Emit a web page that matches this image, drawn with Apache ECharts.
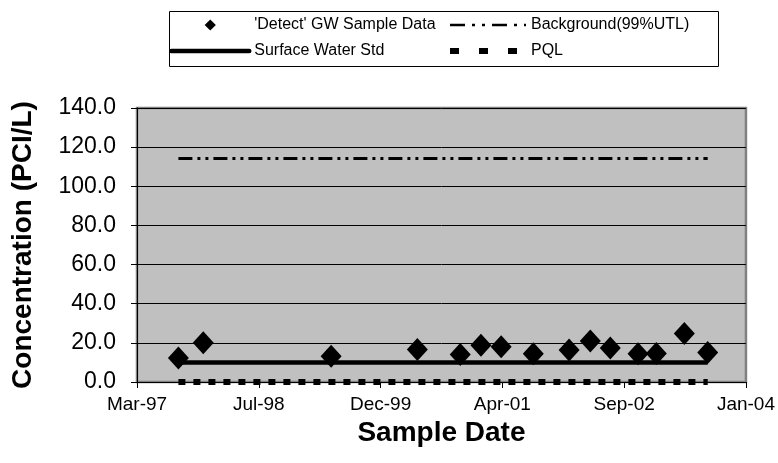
<!DOCTYPE html>
<html><head><meta charset="utf-8">
<script src="https://cdn.jsdelivr.net/npm/echarts@6/dist/echarts.min.js"></script>
<style>html,body{margin:0;padding:0;background:#fff}#c{width:778px;height:463px}</style>
</head><body><div id="c"></div>
<script>
// ---- data ----
const sampleDates = ['1997-08-28','1997-12-08','1999-05-17','2000-05-05','2000-10-28','2001-01-21','2001-04-14','2001-08-24','2002-01-18','2002-04-15','2002-07-06','2002-10-28','2003-01-11','2003-05-06','2003-08-10'];
const detectValues = [12.3, 20.0, 13.2, 16.6, 14.0, 18.8, 18.0, 14.4, 16.3, 20.9, 17.4, 14.4, 14.5, 24.8, 15.1];
const surfaceWaterStd = 10.0;
const backgroundUTL = 114.2;
const pqlValue = 0.0;
const xTickLabels = ['Mar-97','Jul-98','Dec-99','Apr-01','Sep-02','Jan-04'];
const xMinSerial = 35500, xStepDays = 500;
const yTickLabels = ['0.0','20.0','40.0','60.0','80.0','100.0','120.0','140.0'];

function toSerial(s){const p=s.split('-').map(Number);return Math.round((Date.UTC(p[0],p[1]-1,p[2])-Date.UTC(1899,11,30))/86400000);}
const xs = sampleDates.map(toSerial);
const font = 'Arial, "Liberation Sans", sans-serif';
const hideSym = {color:'rgba(0,0,0,0)',borderWidth:0,opacity:0};

const chart = echarts.init(document.getElementById('c'));
chart.setOption({
  animation:false,
  backgroundColor:'#fff',
  grid:{left:137,right:30,top:108,bottom:81,show:true,backgroundColor:'#c0c0c0',borderColor:'#808080',borderWidth:2.5},
  graphic:[{type:'rect',left:167,top:9,shape:{width:549,height:55},style:{fill:'none',stroke:'#000',lineWidth:1}}],
  legend:[
    {left:169,top:17,orient:'vertical',itemWidth:78,itemHeight:14,itemGap:10,padding:0,
     textStyle:{fontSize:16,fontFamily:font,color:'#000'},
     data:[{name:"'Detect' GW Sample Data",itemStyle:{color:'#000'}},
           {name:'Surface Water Std',itemStyle:hideSym,lineStyle:{width:4.5,cap:'round',type:'solid'}}]},
    {left:447,top:17,orient:'vertical',itemWidth:76,itemHeight:14,itemGap:10,padding:0,
     textStyle:{fontSize:16,fontFamily:font,color:'#000'},
     data:[{name:'Background(99%UTL)',itemStyle:hideSym,lineStyle:{width:2.5,type:[15,7,3,7,3,7]}},
           {name:'PQL',itemStyle:hideSym,lineStyle:{width:6,type:[9,20]}}]}
  ],
  xAxis:{type:'value',min:xMinSerial,max:xMinSerial+xStepDays*(xTickLabels.length-1),interval:xStepDays,
    axisLine:{lineStyle:{color:'#000',width:1}},
    axisTick:{show:true,inside:false,length:6,lineStyle:{color:'#000'}},
    splitLine:{show:false},
    axisLabel:{color:'#000',fontSize:19,fontFamily:font,margin:13,
      formatter:v=>xTickLabels[Math.round((v-xMinSerial)/xStepDays)]},
    name:'Sample Date',nameLocation:'middle',nameGap:33,
    nameTextStyle:{fontSize:28,fontWeight:'bold',fontFamily:font,color:'#000'}},
  yAxis:{type:'value',min:0,max:140,interval:20,
    axisLine:{show:true,lineStyle:{color:'#000',width:1}},
    axisTick:{show:true,inside:false,length:6,lineStyle:{color:'#000'}},
    splitLine:{show:true,lineStyle:{color:'#000',width:1}},
    axisLabel:{color:'#000',fontSize:23,fontFamily:font,margin:21,
      formatter:v=>yTickLabels[Math.round(v/20)]},
    name:'Concentration (PCI/L)',nameLocation:'middle',nameGap:100,
    nameTextStyle:{fontSize:28,fontWeight:'bold',fontFamily:font,color:'#000'}},
  series:[
    {name:'PQL',type:'line',clip:false,showSymbol:false,symbol:'none',
     data:xs.map(x=>[x,pqlValue]),
     lineStyle:{color:'#000',width:6,type:[7,8]},itemStyle:{color:'#000'},z:3},
    {name:'Surface Water Std',type:'line',showSymbol:false,symbol:'none',
     data:xs.map(x=>[x,surfaceWaterStd]),
     lineStyle:{color:'#000',width:4.5,type:'solid'},itemStyle:{color:'#000'},z:3},
    {name:'Background(99%UTL)',type:'line',showSymbol:false,symbol:'none',
     data:xs.map(x=>[x,backgroundUTL]),
     lineStyle:{color:'#000',width:3,type:[14,5,3,5,3,5]},itemStyle:{color:'#000'},z:3},
    {name:"'Detect' GW Sample Data",type:'line',symbol:'diamond',symbolSize:[21,23],showSymbol:true,clip:false,
     data:xs.map((x,i)=>[x,detectValues[i]]),
     lineStyle:{width:0,opacity:0},itemStyle:{color:'#000'},z:5}
  ]
});
</script></body></html>
